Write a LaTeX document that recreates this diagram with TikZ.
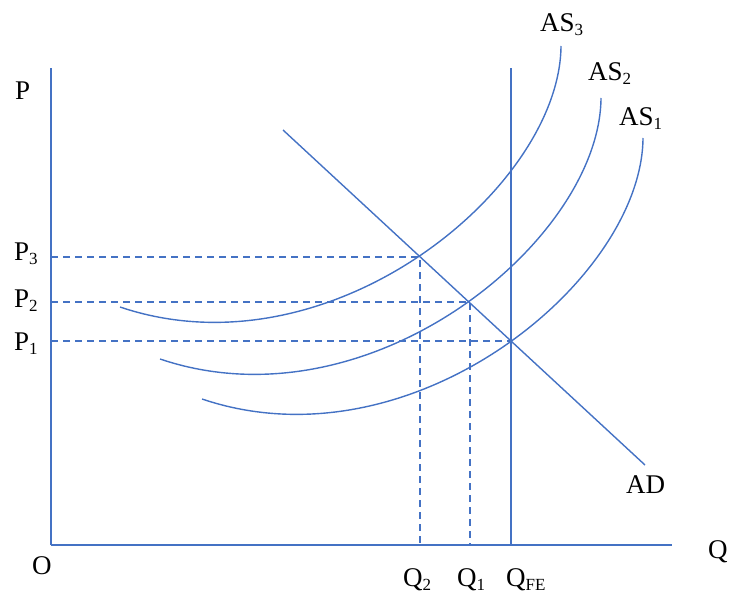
\documentclass[tikz,border=0pt]{standalone}
\usepackage{fontspec}
\setmainfont{Liberation Serif}
\usetikzlibrary{positioning}
\definecolor{lineblue}{RGB}{68,114,196}
\newcommand{\subidx}[1]{\raisebox{-4pt}{\fontsize{17}{17}\selectfont #1}}

\begin{document}
\begin{tikzpicture}[x=1pt, y=-1pt,
  axis/.style={draw=lineblue, line width=1.3pt},
  xaxis/.style={draw=lineblue, line width=1.8pt},
  curve/.style={draw=lineblue, line width=1.4pt},
  guide/.style={draw=lineblue, line width=1.3pt, dash pattern=on 7pt off 5pt},
  lbl/.style={font=\fontsize{27}{30}\selectfont, inner sep=0pt, anchor=base west},
]
\useasboundingbox (0,0) rectangle (733,596);

%% Axes
\coordinate (O)     at (51,545);
\coordinate (ytop)  at (51,68);
\coordinate (xend)  at (672,545);
\coordinate (fetop) at (511,68);
\coordinate (febot) at (511,545);

\draw[axis]  (O) -- (ytop);
\draw[xaxis] (O) -- (xend);
\draw[axis]  (febot) -- (fetop);

%% Equilibria
\coordinate (E3) at (420,257);
\coordinate (E2) at (470,302);
\coordinate (E1) at (511,341);

%% Aggregate demand
\coordinate (adtop) at (283,130);
\coordinate (adbot) at (645,465);
\draw[curve] (adtop) -- (adbot);

%% Aggregate supply curves
\draw[curve] (120,307) .. controls (330,378) and (560,188) .. (561,46);
\draw[curve] (160,359) .. controls (370,430) and (600,240) .. (601,98);
\draw[curve] (202,399) .. controls (412,470) and (642,280) .. (643,138);

%% Guide lines
\draw[guide] (E3 -| O) -- (E3) -- (E3 |- O);
\draw[guide] (E2 -| O) -- (E2) -- (E2 |- O);
\draw[guide] (E1 -| O) -- (E1);

%% Labels
\node[lbl] (lP)   at (15,100)  {P};
\node[lbl] (lP3)  at (14,260)  {P\subidx{3}};
\node[lbl] (lP2)  at (14,307)  {P\subidx{2}};
\node[lbl] (lP1)  at (14,350)  {P\subidx{1}};
\node[lbl] (lO)   at (32,574)  {O};
\node[lbl] (lQ)   at (708,558) {Q};
\node[lbl] (lQ2)  at (403,586) {Q\subidx{2}};
\node[lbl] (lQ1)  at (457,586) {Q\subidx{1}};
\node[lbl] (lQFE) at (506,586) {Q\subidx{FE}};
\node[lbl] (lAS3) at (540,32)  {AS\subidx{3}};
\node[lbl] (lAS2) at (588,81)  {AS\subidx{2}};
\node[lbl] (lAS1) at (619,126) {AS\subidx{1}};
\node[lbl] (lAD)  at (626,493) {AD};

\end{tikzpicture}
\end{document}
